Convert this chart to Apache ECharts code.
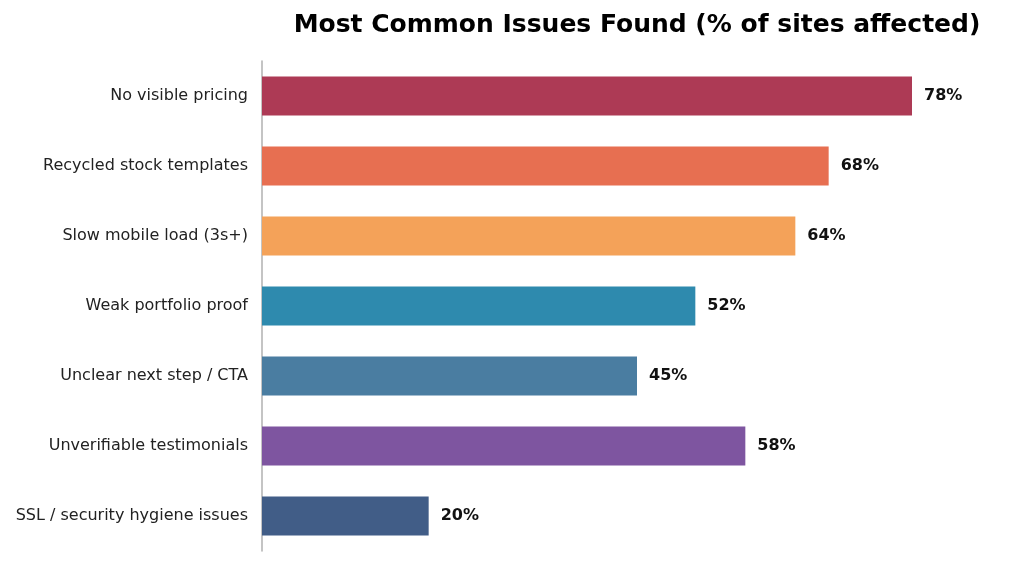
<!DOCTYPE html>
<html>
<head>
<meta charset="utf-8">
<script src="https://cdn.jsdelivr.net/npm/echarts@6/dist/echarts.min.js"></script>
<style>
	html, body { margin: 0; padding: 0; background: #fff; }
	#chart { width: 1024px; height: 571px; }
</style>
</head>
<body>
<div id="chart"></div>
<script type="text/javascript">
	// data, top to bottom
	var categories = [
		'No visible pricing',
		'Recycled stock templates',
		'Slow mobile load (3s+)',
		'Weak portfolio proof',
		'Unclear next step / CTA',
		'Unverifiable testimonials',
		'SSL / security hygiene issues'
	];
	var values = [78, 68, 64, 52, 45, 58, 20];
	var colors = ['#ad3a55', '#e76f51', '#f4a259', '#2e8aae', '#4a7da1', '#7e55a0', '#415d87'];

	var FONT = '"DejaVu Sans", sans-serif';

	var chart = echarts.init(document.getElementById('chart'));
	chart.setOption({
		animation: false,
		title: {
			text: 'Most Common Issues Found (% of sites affected)',
			left: 632,
			textAlign: 'center',
			top: 8,
			textStyle: { fontFamily: FONT, fontSize: 25, fontWeight: 'bold', color: '#000' }
		},
		grid: { left: 262, right: 12, top: 61, bottom: 20 },
		xAxis: {
			type: 'value',
			min: 0,
			max: 90,
			show: false
		},
		yAxis: {
			type: 'category',
			inverse: true,
			data: categories,
			axisLine: { show: true, lineStyle: { color: '#b0b0b0', width: 1.5 } },
			axisTick: { show: false },
			axisLabel: { fontFamily: FONT, fontSize: 16, color: '#222', margin: 14, padding: [3, 0, 0, 0] }
		},
		series: [
			{
				type: 'bar',
				barWidth: 39,
				data: values.map(function (v, i) {
					return { value: v, itemStyle: { color: colors[i] } };
				}),
				label: {
					show: true,
					position: 'right',
					distance: 12,
					formatter: '{c}%',
					fontFamily: FONT,
					fontSize: 16,
					fontWeight: 'bold',
					color: '#111'
				}
			}
		]
	});
</script>
</body>
</html>
